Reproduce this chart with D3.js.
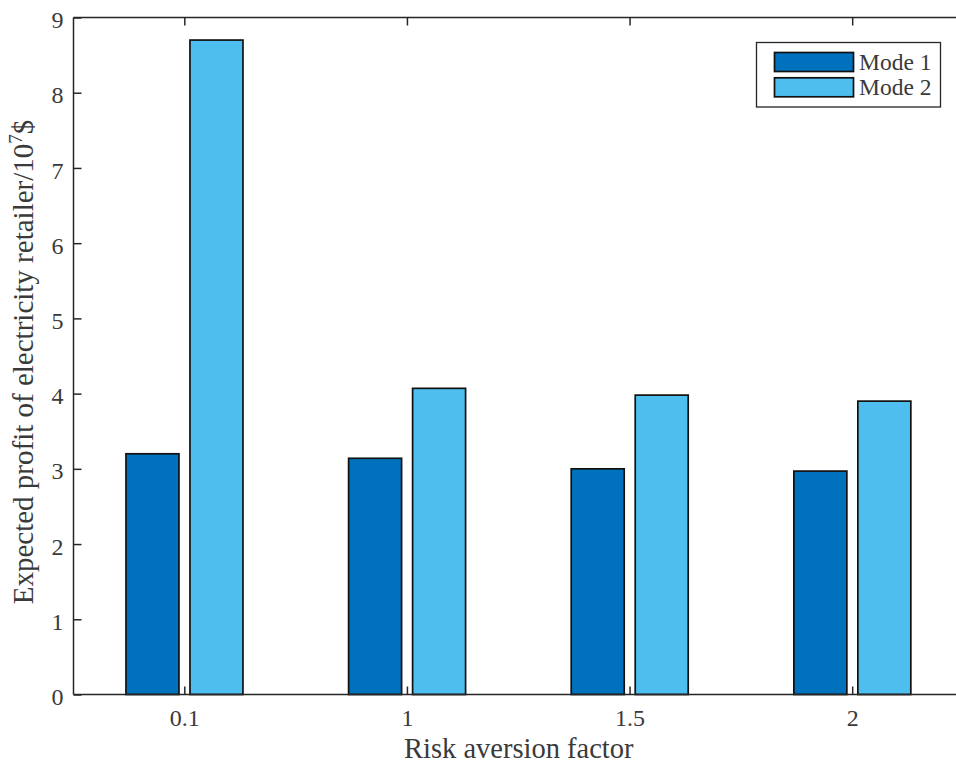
<!DOCTYPE html>
<html>
<head>
<meta charset="utf-8">
<script src="https://cdn.jsdelivr.net/npm/d3@7"></script>
<style>
  html, body { margin: 0; padding: 0; background: #fff; }
  svg { display: block; font-family: "Liberation Serif", "Times New Roman", serif; }
</style>
</head>
<body>
<svg id="chart" width="956" height="766"></svg>
<script>
// Risk aversion factor categories and expected profit (10^7 $) per mode
const categories = ["0.1", "1", "1.5", "2"];
const seriesNames = ["Mode 1", "Mode 2"];
const mode1 = [3.20, 3.14, 3.00, 2.97];
const mode2 = [8.70, 4.07, 3.98, 3.90];
const yTicks = [0, 1, 2, 3, 4, 5, 6, 7, 8, 9];
const colors = ["#0072BD", "#4DBEEE"];

const svg = d3.select("#chart");
const axisColor = "#262626";
const textColor = "#3a3a3a";

// plot box (right side runs past the viewport edge)
const plotL = 73.5, plotR = 964, plotT = 17.5, plotB = 694.5;

const x = d3.scaleBand().domain(categories).range([plotL, plotR]).paddingInner(0).paddingOuter(0);
const bw = x.bandwidth();
const xs = d3.scaleBand().domain(seriesNames).range([0.2357 * bw, 0.7612 * bw]).paddingInner(0.172);
const y = d3.scaleLinear().domain([0, 9]).range([plotB, plotT]);

const rows = categories.map((c, i) => ({ cat: c, vals: [mode1[i], mode2[i]] }));

// bars
const g = svg.append("g");
rows.forEach(r => {
  r.vals.forEach((v, j) => {
    g.append("rect")
      .attr("x", x(r.cat) + xs(seriesNames[j]))
      .attr("y", y(v))
      .attr("width", xs.bandwidth())
      .attr("height", y(0) - y(v))
      .attr("fill", colors[j])
      .attr("stroke", "#111")
      .attr("stroke-width", 1.7);
  });
});

// y axis (ticks pointing inward)
const yAxis = d3.axisLeft(y).tickValues(yTicks).tickSize(-8).tickPadding(10).tickFormat(d3.format("d"));
const ya = svg.append("g").attr("transform", `translate(${plotL},0)`).call(yAxis);
ya.select(".domain").attr("stroke", axisColor).attr("stroke-width", 1.5).attr("d", `M0,${plotT}V${plotB}`);
ya.selectAll(".tick line").attr("stroke", axisColor).attr("stroke-width", 1.5);
ya.selectAll(".tick text").attr("fill", textColor).attr("dy", "0.42em").style("font-size", "24px")
  .style("font-family", "'Liberation Serif', serif");

// x axis (bottom, ticks pointing inward)
const xAxis = d3.axisBottom(x).tickSize(-8).tickPadding(14.5);
const xa = svg.append("g").attr("transform", `translate(0,${plotB})`).call(xAxis);
xa.select(".domain").attr("stroke", axisColor).attr("stroke-width", 1.5).attr("d", `M${plotL},0H${plotR}`);
xa.selectAll(".tick line").attr("stroke", axisColor).attr("stroke-width", 1.5);
xa.selectAll(".tick text").attr("fill", textColor).style("font-size", "24px")
  .style("font-family", "'Liberation Serif', serif");

// top frame with ticks
const xTop = d3.axisTop(x).tickSize(-8).tickFormat("");
const xt = svg.append("g").attr("transform", `translate(0,${plotT})`).call(xTop);
xt.select(".domain").attr("stroke", axisColor).attr("stroke-width", 1.5).attr("d", `M${plotL},0H${plotR}`);
xt.selectAll(".tick line").attr("stroke", axisColor).attr("stroke-width", 1.5);

// axis titles
svg.append("text")
  .attr("x", (plotL + plotR) / 2).attr("y", 758)
  .attr("text-anchor", "middle").attr("fill", textColor)
  .style("font-size", "28.5px")
  .text("Risk aversion factor");

const yt = svg.append("text")
  .attr("transform", `translate(33,${(plotT + plotB) / 2 + 6}) rotate(-90)`)
  .attr("text-anchor", "middle").attr("fill", textColor)
  .style("font-size", "29px");
yt.append("tspan").text("Expected profit of electricity retailer/10");
yt.append("tspan").attr("dy", -11).style("font-size", "19px").text("7");
yt.append("tspan").attr("dy", 11).text("$");

// legend
const lg = svg.append("g");
lg.append("rect").attr("x", 756.5).attr("y", 42.5).attr("width", 184).attr("height", 64.5)
  .attr("fill", "#fff").attr("stroke", axisColor).attr("stroke-width", 1.3);
seriesNames.forEach((s, j) => {
  const yy = 52.5 + j * 25.3;
  lg.append("rect").attr("x", 774.5).attr("y", yy).attr("width", 79).attr("height", 19)
    .attr("fill", colors[j]).attr("stroke", "#111").attr("stroke-width", 1.7);
  lg.append("text").attr("x", 859).attr("y", yy + 17).attr("fill", textColor)
    .style("font-size", "23.5px").text(s);
});
</script>
</body>
</html>
